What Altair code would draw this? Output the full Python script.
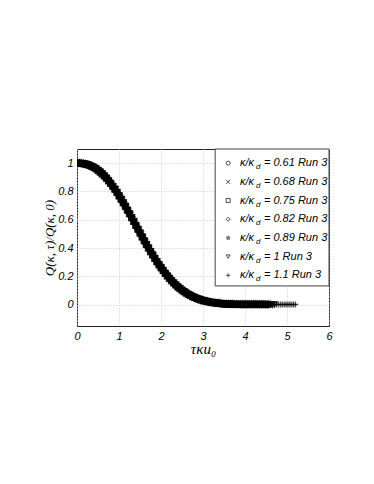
import altair as alt
import pandas as pd

# ---- data ----
kappa_ratio = ["0.61", "0.68", "0.75", "0.82", "0.89", "1", "1.1"]
tau_max = [4.30, 4.40, 4.50, 4.55, 4.60, 4.70, 5.20]
tau_step = 0.05
# normalised correlation Q(k,tau)/Q(k,0) read at tau = 0, 0.05, 0.10, ...
q_curve = [
    1.000, 1.000, 0.999, 0.997, 0.994, 0.990, 0.985, 0.978, 0.970, 0.961,
    0.950, 0.938, 0.925, 0.910, 0.894, 0.876, 0.857, 0.837, 0.816, 0.794,
    0.770, 0.746, 0.721, 0.696, 0.669, 0.643, 0.616, 0.589, 0.561, 0.534,
    0.507, 0.480, 0.453, 0.427, 0.401, 0.376, 0.352, 0.328, 0.305, 0.283,
    0.262, 0.242, 0.222, 0.204, 0.187, 0.170, 0.155, 0.141, 0.127, 0.115,
    0.103, 0.093, 0.083, 0.074, 0.066, 0.058, 0.052, 0.045, 0.040, 0.035,
    0.030, 0.027, 0.023, 0.020, 0.017, 0.015, 0.013, 0.011, 0.009, 0.008,
    0.007, 0.006, 0.005, 0.004, 0.004, 0.003, 0.003, 0.003, 0.002, 0.002,
    0.002, 0.002, 0.002, 0.002, 0.002, 0.002, 0.002, 0.002, 0.002, 0.002,
    0.002, 0.002, 0.002, 0.002, 0.002, 0.002, 0.002, 0.002, 0.002, 0.002,
    0.002, 0.002, 0.002, 0.002, 0.002,
]
x_ticks = [0, 1, 2, 3, 4, 5, 6]
y_ticks = [0, 0.2, 0.4, 0.6, 0.8, 1]

labels = [f"κ/κd = {k} Run 3" for k in kappa_ratio]

rows = []
for lab, tmax in zip(labels, tau_max):
    for i, q in enumerate(q_curve):
        t = round(i * tau_step, 3)
        if t <= tmax + 1e-9:
            rows.append({"series": lab, "tau": t, "q": q})
df = pd.DataFrame(rows)

# marker shapes (circle, x, square, diamond, star, triangle-down, plus)
shapes = [
    "circle",
    "M-1,-1L1,1M-1,1L1,-1",
    "square",
    "diamond",
    "M0,-1L0.2245,-0.309L0.951,-0.309L0.363,0.118L0.588,0.809L0,0.382L-0.588,0.809L-0.363,0.118L-0.951,-0.309L-0.2245,-0.309Z",
    "triangle-down",
    "M-1,0L1,0M0,-1L0,1",
]
shape_scale = alt.Scale(domain=labels, range=shapes)

xs = alt.Scale(domain=[0, 6], nice=False)
ys = alt.Scale(domain=[-0.15, 1.1], nice=False)
x_axis = alt.Axis(values=x_ticks, title="τκu₀", format="~g", titleFontSize=15,
                  labelOverlap=False, titlePadding=0)
y_axis = alt.Axis(values=y_ticks, title="Q(κ, τ)/Q(κ, 0)", format=".1~f", titleFontSize=13,
                  labelOverlap=False, titlePadding=1)

points = alt.Chart(df).mark_point(filled=False, strokeWidth=1.4, color="black", size=34, clip=True).encode(
    x=alt.X("tau:Q", scale=xs, axis=x_axis),
    y=alt.Y("q:Q", scale=ys, axis=y_axis),
    shape=alt.Shape("series:N", scale=shape_scale, legend=None),
)

# ---- legend box drawn inside the plot ----
box = pd.DataFrame([{"x0": 3.29, "x1": 6.0, "y0": 0.133, "y1": 1.1}])
legend_box = alt.Chart(box).mark_rect(fill="white", stroke="#444", strokeWidth=1).encode(
    x=alt.X("x0:Q", scale=xs, axis=x_axis), x2="x1:Q",
    y=alt.Y("y0:Q", scale=ys, axis=y_axis), y2="y1:Q",
)

leg = pd.DataFrame({
    "series": labels,
    "k": kappa_ratio,
    "rank": list(range(len(labels))),
})
leg["ly"] = 1.0 - leg["rank"] * 0.132
leg["sx"] = 3.6
leg["tx"] = 3.88
leg["rest"] = "= " + leg["k"] + " Run 3"

lx_sym = alt.X("sx:Q", scale=xs, axis=x_axis)
lx_txt = alt.X("tx:Q", scale=xs, axis=x_axis)
ly = alt.Y("ly:Q", scale=ys, axis=y_axis)

leg_sym = alt.Chart(leg).mark_point(filled=False, strokeWidth=1, color="black", size=16).encode(
    x=lx_sym, y=ly, shape=alt.Shape("series:N", scale=shape_scale, legend=None)
)
txt_style = dict(font="Liberation Sans", fontStyle="italic", color="black", align="left", baseline="middle")
leg_t1 = alt.Chart(leg).mark_text(fontSize=11, **txt_style).encode(
    x=lx_txt, y=ly, text=alt.value("κ/κ")
)
leg_t2 = alt.Chart(leg).mark_text(fontSize=8, dx=16, dy=4, **txt_style).encode(
    x=lx_txt, y=ly, text=alt.value("d")
)
leg_t3 = alt.Chart(leg).mark_text(fontSize=11, dx=24, **txt_style).encode(
    x=lx_txt, y=ly, text="rest:N"
)

chart = alt.layer(points, legend_box, leg_sym, leg_t1, leg_t2, leg_t3).properties(
    width=252, height=177,
    autosize=alt.AutoSizeParams(type="none"),
    padding={"left": 69, "top": 141, "right": 37, "bottom": 150},
).configure_view(
    stroke="#222", strokeWidth=1
).configure_axis(
    grid=True, gridColor="#c8c8c8", gridDash=[1, 2], gridWidth=1,
    domain=False, ticks=False, labelOverlap=False,
    labelFont="Liberation Sans", labelFontStyle="italic", labelFontSize=11,
    labelColor="black", labelPadding=4,
    titleFont="Liberation Serif", titleFontStyle="italic", titleFontWeight="normal",
    titleColor="black",
).configure_axisX(
    labelFlush=False,
).configure_axisY(
    labelFlush=False,
)

chart.save("out.html", embed_options={"renderer": "svg", "actions": False})
